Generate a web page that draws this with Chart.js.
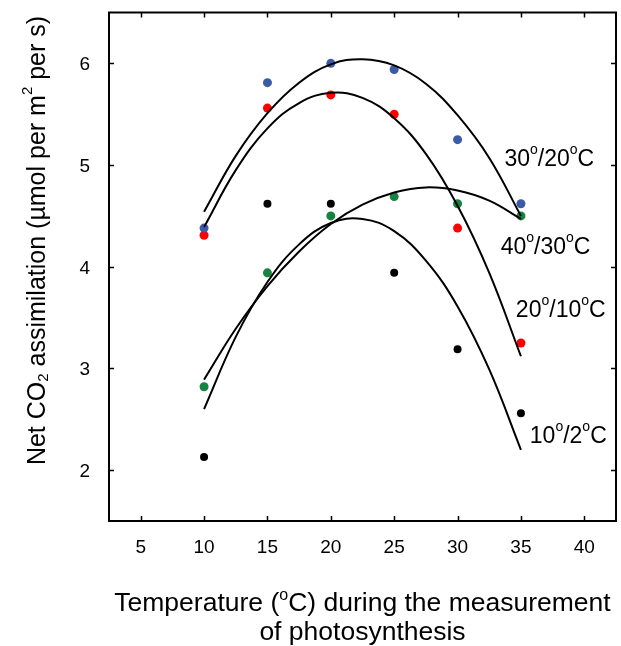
<!DOCTYPE html>
<html lang="en">
<head>
    <meta charset="UTF-8">
    <title>Net CO2 assimilation vs temperature</title>
    <script src="https://cdn.jsdelivr.net/npm/chart.js"></script>
    <style>
        html, body { margin: 0; padding: 0; background: #fff; }
        #wrap { width: 621px; height: 646px; }
    </style>
</head>
<body>
    <div id="wrap"><canvas id="photoChart" width="621" height="646"></canvas></div>

    <script>
        // measured points, one series per growth regime (day/night temperature)
        const temps = [10, 15, 20, 25, 30, 35];
        const net3020 = [4.38, 5.81, 6.00, 5.94, 5.25, 4.62];
        const net2010 = [4.31, 5.56, 5.69, 5.50, 4.38, 3.25];
        const net4030 = [2.82, 3.94, 4.50, 4.69, 4.62, 4.50];
        const net102 = [2.13, 4.62, 4.62, 3.94, 3.19, 2.56];

        // fitted response curves
        const fitTemps = [10, 12.5, 15, 17.5, 20, 22.5, 25, 27.5, 30, 32.5, 35];
        const fit3020 = [4.54, 5.09, 5.51, 5.81, 5.99, 6.04, 5.98, 5.80, 5.49, 5.07, 4.50];
        const fit2010 = [4.39, 4.95, 5.36, 5.61, 5.71, 5.66, 5.46, 5.11, 4.60, 3.94, 3.12];
        const fit4030 = [2.89, 3.39, 3.81, 4.15, 4.42, 4.61, 4.73, 4.78, 4.75, 4.65, 4.47];
        const fit102 = [2.60, 3.31, 3.85, 4.22, 4.43, 4.47, 4.35, 4.06, 3.61, 2.99, 2.20];

        const xTicks = [5, 10, 15, 20, 25, 30, 35, 40];
        const yTicks = [2, 3, 4, 5, 6];

        // curve labels: day / night temperature, placed at data coordinates
        const curveLabels = [
            { day: "30", night: "20", x: 33.7, y: 5.05 },
            { day: "40", night: "30", x: 33.4, y: 4.19 },
            { day: "20", night: "10", x: 34.6, y: 3.57 },
            { day: "10", night: "2", x: 35.7, y: 2.33 }
        ];

        const FONT = "'Liberation Sans', Arial, sans-serif";

        function toXY(xs, ys) {
            return xs.map((x, i) => ({ x: x, y: ys[i] }));
        }

        function fitLine(ys) {
            return {
                type: "line",
                data: toXY(fitTemps, ys),
                borderColor: "#000",
                borderWidth: 2,
                pointRadius: 0,
                tension: 0.4,
                fill: false
            };
        }

        function dots(ys, color, r) {
            return {
                type: "scatter",
                data: toXY(temps, ys),
                backgroundColor: color,
                borderWidth: 0,
                pointRadius: r
            };
        }

        // draws a run of text pieces; sup/sub pieces are smaller and shifted
        function drawRich(ctx, parts, x, y, size, align) {
            const small = Math.round(size * 0.6);
            let total = 0;
            parts.forEach(p => {
                ctx.font = (p.sup || p.sub ? small : size) + "px " + FONT;
                p.w = ctx.measureText(p.t).width;
                total += p.w;
            });
            let cx = align === "center" ? x - total / 2 : x;
            parts.forEach(p => {
                ctx.font = (p.sup || p.sub ? small : size) + "px " + FONT;
                let dy = 0;
                if (p.sup) dy = -size * 0.42;
                if (p.sub) dy = size * 0.22;
                ctx.fillText(p.t, cx, y + dy);
                cx += p.w;
            });
        }

        const framePlugin = {
            id: "frame",
            afterDraw(chart) {
                const ctx = chart.ctx;
                const a = chart.chartArea;
                const xs = chart.scales.x;
                const ys = chart.scales.y;
                ctx.save();
                ctx.strokeStyle = "#000";
                ctx.fillStyle = "#000";

                // box
                ctx.lineWidth = 2;
                ctx.strokeRect(a.left, a.top, a.right - a.left, a.bottom - a.top);

                // inward ticks on all four sides
                const len = 5;
                ctx.lineWidth = 1.5;
                ctx.beginPath();
                xs.ticks.forEach(t => {
                    const px = Math.round(xs.getPixelForValue(t.value)) + 0.5;
                    ctx.moveTo(px, a.bottom); ctx.lineTo(px, a.bottom - len);
                    ctx.moveTo(px, a.top); ctx.lineTo(px, a.top + len);
                });
                ys.ticks.forEach(t => {
                    const py = Math.round(ys.getPixelForValue(t.value)) + 0.5;
                    ctx.moveTo(a.left, py); ctx.lineTo(a.left + len, py);
                    ctx.moveTo(a.right, py); ctx.lineTo(a.right - len, py);
                });
                ctx.stroke();

                // tick labels
                ctx.font = "19px " + FONT;
                ctx.textAlign = "center";
                ctx.textBaseline = "alphabetic";
                xs.ticks.forEach(t => {
                    ctx.fillText(String(t.value), xs.getPixelForValue(t.value), a.bottom + 32);
                });
                ctx.textAlign = "right";
                ys.ticks.forEach(t => {
                    ctx.fillText(String(t.value), a.left - 19, ys.getPixelForValue(t.value) + 7);
                });

                // curve labels
                ctx.textBaseline = "middle";
                ctx.textAlign = "left";
                curveLabels.forEach(l => {
                    drawRich(ctx, [
                        { t: l.day }, { t: "o", sup: true }, { t: "/" + l.night },
                        { t: "o", sup: true }, { t: "C" }
                    ], xs.getPixelForValue(l.x), ys.getPixelForValue(l.y), 23, "left");
                });

                // x axis title, two lines
                const midX = (a.left + a.right) / 2;
                ctx.textBaseline = "alphabetic";
                drawRich(ctx, [
                    { t: "Temperature (" }, { t: "o", sup: true },
                    { t: "C) during the measurement" }
                ], midX, a.bottom + 90, 26.5, "center");
                drawRich(ctx, [{ t: "of photosynthesis" }], midX, a.bottom + 119, 26.5, "center");

                // y axis title, rotated
                ctx.translate(a.left - 71, a.top + 228);
                ctx.rotate(-Math.PI / 2);
                ctx.textBaseline = "middle";
                drawRich(ctx, [
                    { t: "Net CO" }, { t: "2", sub: true }, { t: " assimilation (\u00b5mol per m" },
                    { t: "2", sup: true }, { t: " per s)" }
                ], 0, 0, 25, "center");
                ctx.restore();
            }
        };

        const chart = new Chart(document.getElementById("photoChart"), {
            data: {
                datasets: [
                    fitLine(fit3020),
                    fitLine(fit2010),
                    fitLine(fit4030),
                    fitLine(fit102),
                    dots(net3020, "#3b5ba9", 4.5),
                    dots(net2010, "#ff0000", 4.5),
                    dots(net4030, "#168340", 4.5),
                    dots(net102, "#000000", 4)
                ]
            },
            options: {
                responsive: false,
                animation: false,
                layout: { padding: { left: 109, right: 5, top: 12.5, bottom: 125 } },
                plugins: {
                    legend: { display: false },
                    tooltip: { enabled: false }
                },
                scales: {
                    x: {
                        type: "linear",
                        min: 2.5,
                        max: 42.5,
                        afterBuildTicks: s => { s.ticks = xTicks.map(v => ({ value: v })); },
                        grid: { display: false, drawTicks: false },
                        border: { display: false },
                        ticks: { display: false }
                    },
                    y: {
                        type: "linear",
                        min: 1.5,
                        max: 6.5,
                        afterBuildTicks: s => { s.ticks = yTicks.map(v => ({ value: v })); },
                        grid: { display: false, drawTicks: false },
                        border: { display: false },
                        ticks: { display: false }
                    }
                }
            },
            plugins: [framePlugin]
        });
    </script>
</body>
</html>
